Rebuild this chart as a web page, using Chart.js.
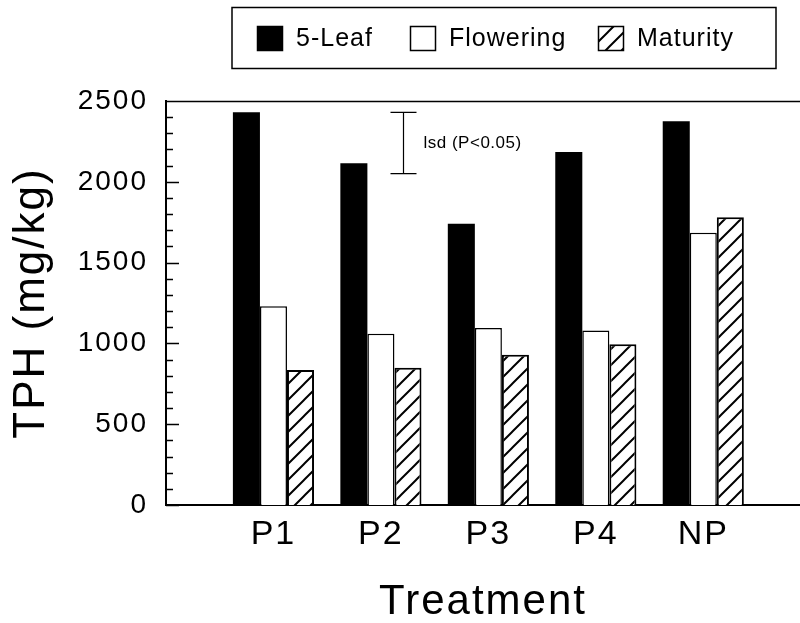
<!DOCTYPE html>
<html>
<head>
<meta charset="utf-8">
<script src="https://cdn.jsdelivr.net/npm/chart.js@4.4.0/dist/chart.umd.min.js"></script>
<style>
  html, body { margin: 0; padding: 0; background: #fff; }
  #wrap { width: 800px; height: 623px; }
</style>
</head>
<body>
<div id="wrap"><canvas id="tphChart"></canvas></div>
<script>
const treatments = ['P1', 'P2', 'P3', 'P4', 'NP'];
const stageNames = ['5-Leaf', 'Flowering', 'Maturity'];
const leaf5 = [2430, 2115, 1740, 2185, 2375];
const flowering = [1230, 1060, 1095, 1080, 1685];
const maturity = [835, 850, 930, 995, 1780];
const yTicks = [0, 500, 1000, 1500, 2000, 2500];
const lsdTop = 2430;
const lsdBottom = 2050;
const lsdAt = 2.21;

const FONT = "'Liberation Sans', Arial, sans-serif";

const canvas = document.getElementById('tphChart');
const ctx = canvas.getContext('2d');

function makeHatch() {
    const c = document.createElement('canvas');
    c.width = 16;
    c.height = 16;
    const g = c.getContext('2d');
    g.fillStyle = '#fff';
    g.fillRect(0, 0, 16, 16);
    g.strokeStyle = '#000';
    g.lineWidth = 2;
    g.beginPath();
    g.moveTo(0, 16); g.lineTo(16, 0);
    g.moveTo(-4, 4); g.lineTo(4, -4);
    g.moveTo(12, 20); g.lineTo(20, 12);
    g.stroke();
    return ctx.createPattern(c, 'repeat');
}
const hatch = makeHatch();

function toPoints(values) {
    return values.map((v, i) => ({ x: i + 1, y: v }));
}

// spacing between letters, as in the scanned figure
const spacing = {
    id: 'spacing',
    beforeUpdate(chart) { chart.ctx.letterSpacing = '2px'; },
    beforeDraw(chart) { chart.ctx.letterSpacing = '2px'; }
};

// inward ticks, top frame line and lsd bar
const frame = {
    id: 'frame',
    afterDatasetsDraw(chart) {
        const { ctx, chartArea, scales: { x, y } } = chart;
        ctx.save();
        ctx.strokeStyle = '#000';
        ctx.lineWidth = 1.5;
        ctx.beginPath();
        y.ticks.forEach(t => {
            const py = Math.round(y.getPixelForValue(t.value)) + 0.5;
            const len = yTicks.includes(t.value) ? 13 : 7;
            ctx.moveTo(chartArea.left, py);
            ctx.lineTo(chartArea.left + len, py);
        });
        ctx.moveTo(chartArea.left, chartArea.top + 0.5);
        ctx.lineTo(chartArea.right, chartArea.top + 0.5);
        ctx.stroke();

        const lx = Math.round(x.getPixelForValue(lsdAt)) + 0.5;
        const y1 = y.getPixelForValue(lsdTop);
        const y2 = y.getPixelForValue(lsdBottom);
        ctx.lineWidth = 1.2;
        ctx.beginPath();
        ctx.moveTo(lx, y1); ctx.lineTo(lx, y2);
        ctx.moveTo(lx - 13, y1); ctx.lineTo(lx + 13, y1);
        ctx.moveTo(lx - 13, y2); ctx.lineTo(lx + 13, y2);
        ctx.stroke();
        ctx.fillStyle = '#000';
        ctx.font = '17px ' + FONT;
        ctx.letterSpacing = '0.5px';
        ctx.textBaseline = 'middle';
        ctx.textAlign = 'left';
        ctx.fillText('lsd (P<0.05)', lx + 20, (y1 + y2) / 2);
        ctx.restore();
    }
};

// boxed legend above the plot
const legendBox = {
    id: 'legendBox',
    afterDraw(chart) {
        const ctx = chart.ctx;
        const starts = [257, 410, 598];
        ctx.save();
        ctx.strokeStyle = '#000';
        ctx.lineWidth = 1.5;
        ctx.strokeRect(232, 7.5, 544, 61);
        ctx.font = '25px ' + FONT;
        ctx.letterSpacing = '1px';
        ctx.textBaseline = 'middle';
        ctx.textAlign = 'left';
        chart.data.datasets.forEach((ds, i) => {
            const bx = starts[i];
            ctx.fillStyle = ds.backgroundColor;
            ctx.fillRect(bx, 26, 26, 25);
            ctx.lineWidth = 1.5;
            ctx.strokeRect(bx + 0.5, 26.5, 25, 24);
            ctx.fillStyle = '#000';
            ctx.fillText(ds.label, bx + 39, 39);
        });
        ctx.restore();
    }
};

new Chart(ctx, {
    type: 'bar',
    data: {
        datasets: [
            {
                label: stageNames[0],
                data: toPoints(leaf5),
                backgroundColor: '#000',
                borderColor: '#000',
                borderWidth: 0
            },
            {
                label: stageNames[1],
                data: toPoints(flowering),
                backgroundColor: '#fff',
                borderColor: '#000',
                borderWidth: 1.5
            },
            {
                label: stageNames[2],
                data: toPoints(maturity),
                backgroundColor: hatch,
                borderColor: '#000',
                borderWidth: 2
            }
        ]
    },
    options: {
        animation: false,
        responsive: true,
        maintainAspectRatio: false,
        layout: { padding: { top: 101, right: 0, left: 0, bottom: 0 } },
        datasets: { bar: { categoryPercentage: 0.755, barPercentage: 1 } },
        plugins: {
            legend: { display: false },
            tooltip: { enabled: false }
        },
        scales: {
            x: {
                type: 'linear',
                offset: false,
                min: 0,
                max: 5.9,
                afterBuildTicks: scale => {
                    scale.ticks = scale.ticks.filter(t => t.value >= 1 && t.value <= treatments.length && Number.isInteger(t.value));
                },
                afterFit: scale => { scale.height = 118; },
                grid: { display: false, drawTicks: false },
                border: { display: true, color: '#000', width: 2 },
                ticks: {
                    stepSize: 1,
                    autoSkip: false,
                    maxRotation: 0,
                    padding: 9,
                    color: '#000',
                    font: { size: 34, family: FONT },
                    callback: value => treatments[value - 1] || ''
                },
                title: {
                    display: true,
                    text: 'Treatment',
                    color: '#000',
                    font: { size: 42, family: FONT, lineHeight: 0.8 },
                    padding: { top: 0, bottom: 4 }
                }
            },
            y: {
                min: 0,
                max: 2500,
                afterFit: scale => { scale.width = 166; },
                grid: { display: false, drawTicks: false },
                border: { display: true, color: '#000', width: 2 },
                ticks: {
                    stepSize: 100,
                    autoSkip: false,
                    padding: 18,
                    color: '#000',
                    font: { size: 28, family: FONT },
                    callback: value => yTicks.includes(value) ? value : ''
                },
                title: {
                    display: true,
                    text: 'TPH (mg/kg)',
                    color: '#000',
                    font: { size: 44, family: FONT },
                    padding: { top: 5, bottom: 0 }
                }
            }
        }
    },
    plugins: [spacing, frame, legendBox]
});
</script>
</body>
</html>
